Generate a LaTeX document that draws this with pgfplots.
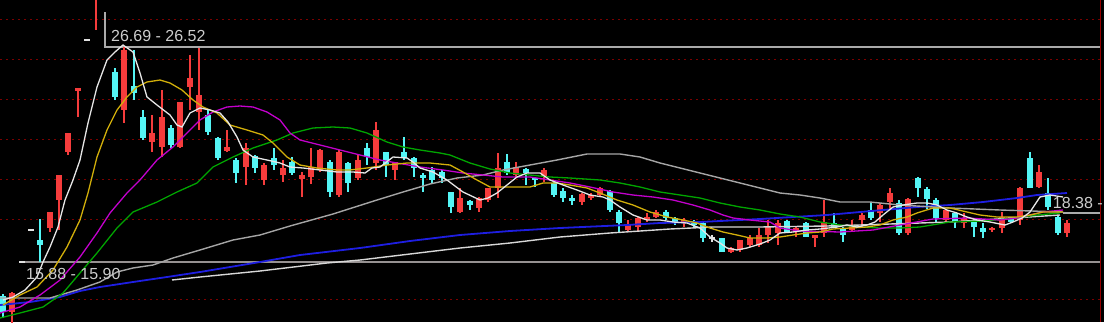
\documentclass[border=0pt]{standalone}
\usepackage{pgfplots}
\pgfplotsset{compat=1.18}
\usepackage{pgfplotstable}
\usepackage{fontspec}
\setmainfont{Liberation Sans}
\definecolor{cup}{RGB}{245,60,60}
\definecolor{cdn}{RGB}{84,245,245}
\definecolor{cdoji}{RGB}{225,225,225}
\definecolor{ma5}{RGB}{230,230,230}
\definecolor{ma10}{RGB}{210,175,10}
\definecolor{ma20}{RGB}{195,0,205}
\definecolor{ma30}{RGB}{0,165,0}
\definecolor{ma60}{RGB}{165,165,165}
\definecolor{ma120}{RGB}{215,215,215}
\definecolor{ma250}{RGB}{30,30,225}
\definecolor{gridred}{RGB}{125,0,0}
\definecolor{edgered}{RGB}{150,0,0}
\definecolor{refgray}{RGB}{170,170,170}
\definecolor{refgray2}{RGB}{150,145,145}
\definecolor{txt}{RGB}{205,205,205}

% candles: x position, wick top (high), body top, body bottom, wick bottom (low); values in chart y units (down)
\pgfplotstableread{
x top btop bbot bot
12 292 293 312 325
50 212 212 228 232
59 175 175 200 230
68 133 133 152 155
78 88 88 91 117
96 -60 -60 -5 30
124 47 50 110 123
152 115 133 142 152
162 90 117 147 157
180 102 102 147 148
190 55 78 87 110
199 48 95 112 130
227 130 147 151 152
246 143 148 167 185
264 163 165 180 185
283 160 168 175 182
302 172 175 179 197
311 148 167 177 184
320 149 150 170 172
339 150 152 195 197
358 155 160 178 180
376 122 130 163 170
395 162 162 170 180
460 188 198 212 213
479 197 198 208 212
488 188 188 200 202
498 153 168 188 198
516 162 167 175 178
544 168 170 177 182
582 193 194 202 205
591 193 195 198 200
600 187 188 195 197
628 220 225 230 232
638 217 218 227 232
647 213 217 220 222
656 210 212 217 218
684 218 220 223 227
731 247 248 252 253
740 240 240 250 252
750 235 238 245 247
759 228 235 245 247
768 220 227 235 243
778 220 223 233 245
796 227 228 232 237
815 235 235 238 247
824 200 222 233 237
852 220 225 230 232
862 213 215 220 227
880 203 205 213 222
890 188 193 202 210
908 198 199 233 235
946 210 210 220 222
964 213 218 223 228
992 227 228 230 232
1002 212 217 228 233
1020 187 188 220 225
1039 165 172 187 188
1067 220 223 233 237
}\upcandles

\pgfplotstableread{
x top btop bbot bot
3 294 296 312 318
40 219 240 245 262
115 68 72 97 100
134 50 86 93 100
143 110 117 138 140
171 125 128 145 148
208 110 115 132 135
218 137 138 158 160
236 158 160 173 183
255 155 156 168 173
274 148 158 165 170
292 157 162 173 175
330 160 162 192 197
348 162 163 183 192
367 143 148 157 165
386 152 152 165 177
404 137 152 158 160
414 157 158 168 177
423 173 175 178 192
432 167 170 180 183
442 170 172 178 183
451 192 192 207 213
470 200 201 205 210
507 154 162 173 175
526 168 169 173 185
535 177 178 180 187
554 182 183 195 197
563 188 191 198 202
572 195 198 201 205
610 190 191 210 212
619 210 212 223 232
666 210 212 218 220
675 217 218 222 225
694 220 221 225 228
703 222 223 238 242
722 238 238 252 252
787 220 221 232 233
806 222 223 237 237
834 213 223 228 228
843 227 228 235 242
871 202 210 218 220
899 200 203 233 235
918 177 178 188 197
927 187 189 199 209
936 198 200 218 222
955 212 213 222 228
974 218 220 227 237
983 223 228 232 238
1011 217 217 222 223
1030 152 158 188 188
1048 178 193 207 210
1058 215 217 233 235
}\downcandles

\pgfplotstableread{
x top btop bbot bot
22 261 261 263 263
31 229 229 231 231
87 39 39 41 41
712 235 237 239 242
}\dojicandles

\begin{document}
\begin{tikzpicture}
\begin{axis}[
  width=1104pt, height=322pt, scale only axis,
  xmin=0, xmax=1104, ymin=0, ymax=322, y dir=reverse,
  axis background/.style={fill=black},
  axis line style={draw=none},
  xtick=\empty, ytick=\empty,
  major tick length=0pt,
  clip=true,
  candle/.style={draw=none, mark=none, forget plot, error bars/.cd, y dir=both, y explicit, error mark=none},
  gridline/.style={gridred, line width=1pt, dash pattern=on 2pt off 4pt, forget plot},
]
% dotted grid
\addplot[gridline] coordinates {(0,19) (1100,19)};
\addplot[gridline] coordinates {(0,59) (1100,59)};
\addplot[gridline] coordinates {(0,99) (1100,99)};
\addplot[gridline] coordinates {(0,139) (1100,139)};
\addplot[gridline] coordinates {(0,179) (1100,179)};
\addplot[gridline] coordinates {(0,219) (1100,219)};
\addplot[gridline] coordinates {(0,299) (1100,299)};
% reference lines
\addplot[refgray, line width=2pt, forget plot] coordinates {(105,12) (105,46.5) (1100,46.5)};
\addplot[refgray2, line width=2pt, forget plot] coordinates {(24,262) (1100,262)};
\addplot[refgray, line width=1.6pt, forget plot] coordinates {(1063,213) (1100,213)};
\addplot[edgered, line width=1.4pt, forget plot] coordinates {(1100.5,0) (1100.5,322)};

% wicks
\addplot[candle, error bar style={draw=cup, line width=1.6pt}]
  table[x=x, y expr={(\thisrow{top}+\thisrow{bot})/2}, y error expr={(\thisrow{bot}-\thisrow{top})/2}] {\upcandles};
\addplot[candle, error bar style={draw=cdn, line width=1.6pt}]
  table[x=x, y expr={(\thisrow{top}+\thisrow{bot})/2}, y error expr={(\thisrow{bot}-\thisrow{top})/2}] {\downcandles};
\addplot[candle, error bar style={draw=cdoji, line width=1.6pt}]
  table[x=x, y expr={(\thisrow{top}+\thisrow{bot})/2}, y error expr={(\thisrow{bot}-\thisrow{top})/2}] {\dojicandles};
% bodies
\addplot[candle, error bar style={draw=cup, line width=6pt}]
  table[x=x, y expr={(\thisrow{btop}+\thisrow{bbot})/2}, y error expr={(\thisrow{bbot}-\thisrow{btop})/2}] {\upcandles};
\addplot[candle, error bar style={draw=cdn, line width=6pt}]
  table[x=x, y expr={(\thisrow{btop}+\thisrow{bbot})/2}, y error expr={(\thisrow{bbot}-\thisrow{btop})/2}] {\downcandles};
\addplot[candle, error bar style={draw=cdoji, line width=6pt}]
  table[x=x, y expr={(\thisrow{btop}+\thisrow{bbot})/2}, y error expr={(\thisrow{bbot}-\thisrow{btop})/2}] {\dojicandles};

% moving averages
\addplot[ma250, line width=1.8pt] coordinates {
(0,305)(30,302)(60,297)(80,291)(100,287)(133,282)(167,277)(200,272)(230,267)(260,262)(300,255)(360,248)(410,241)(460,235)(510,231)(560,228)(627,225)(660,223)(700,222)(760,219)(793,217)(827,215)(860,212)(883,210)(917,207)(950,205)(983,202)(1017,198)(1037,195)(1067,193)};
\addplot[ma120, line width=1.4pt] coordinates {
(172,280)(200,277)(260,271)(327,263)(360,260)(410,254)(460,248)(510,243)(560,237)(610,233)(640,231)(670,229)(713,227)(760,227)(827,226)(860,225)(950,222)(1060,215)};
\addplot[ma60, line width=1.4pt] coordinates {
(0,298)(50,298)(77,290)(100,282)(117,272)(133,268)(153,265)(173,258)(200,250)(233,240)(260,235)(290,226)(333,214)(377,200)(403,192)(430,184)(457,178)(483,175)(503,170)(530,165)(557,160)(587,154)(620,154)(640,157)(660,163)(680,168)(700,173)(720,178)(740,183)(760,188)(780,193)(800,195)(820,198)(840,202)(870,202)(900,205)(950,208)(1000,210)(1063,212)};
\addplot[ma30, line width=1.3pt] coordinates {
(0,318)(20,313)(43,307)(63,293)(80,273)(97,253)(117,228)(133,212)(157,202)(177,192)(197,183)(213,167)(233,157)(253,148)(277,140)(293,133)(313,128)(333,127)(350,128)(367,133)(387,142)(403,147)(420,150)(440,153)(450,155)(470,163)(490,169)(510,173)(530,175)(550,177)(570,178)(600,180)(620,183)(640,187)(660,192)(680,195)(700,198)(720,203)(740,207)(760,210)(780,214)(800,217)(820,222)(840,225)(860,227)(880,228)(900,228)(920,227)(950,222)(983,221)(1017,218)(1037,215)(1060,213)};
\addplot[ma20, line width=1.3pt] coordinates {
(0,313)(20,307)(40,295)(60,280)(80,257)(97,233)(110,213)(127,193)(140,180)(157,160)(173,147)(187,133)(200,120)(213,112)(227,107)(240,106)(253,107)(267,112)(280,120)(290,133)(300,140)(320,145)(340,150)(360,155)(380,160)(397,163)(420,167)(443,170)(463,173)(483,175)(503,177)(530,177)(550,180)(570,183)(590,187)(613,192)(633,195)(653,197)(673,200)(693,205)(710,210)(723,215)(733,218)(750,220)(770,222)(780,228)(800,231)(840,232)(873,230)(900,225)(933,219)(967,218)(1000,220)(1017,218)(1030,215)(1043,212)(1063,210)};
\addplot[ma10, line width=1.3pt] coordinates {
(3,305)(20,295)(37,287)(53,270)(67,247)(80,220)(88,193)(97,157)(107,130)(117,110)(127,97)(137,87)(147,82)(160,80)(170,83)(182,90)(193,100)(203,107)(217,113)(230,125)(247,130)(263,135)(273,143)(287,157)(300,165)(317,168)(337,170)(350,170)(367,168)(387,165)(407,163)(430,163)(450,165)(463,172)(477,180)(490,187)(507,187)(530,187)(543,183)(557,183)(570,185)(587,188)(600,193)(617,200)(633,205)(650,212)(667,217)(683,220)(697,223)(710,228)(723,232)(737,235)(750,238)(767,238)(780,237)(793,235)(807,233)(820,232)(833,229)(850,228)(867,227)(880,225)(893,220)(907,217)(917,213)(933,208)(950,208)(967,212)(980,215)(997,217)(1017,217)(1030,215)(1043,212)(1063,212)};
\addplot[ma5, line width=1.3pt] coordinates {
(3,300)(13,297)(25,290)(37,277)(43,262)(50,247)(58,227)(65,200)(73,180)(80,160)(88,123)(97,87)(107,60)(115,52)(123,45)(133,52)(140,73)(147,97)(157,105)(170,115)(177,125)(182,127)(190,113)(200,108)(210,110)(220,113)(228,122)(237,137)(243,150)(253,157)(267,160)(280,163)(290,167)(303,168)(320,170)(337,172)(353,172)(365,173)(372,168)(380,167)(393,157)(407,158)(413,162)(420,168)(433,172)(447,180)(463,192)(480,200)(488,198)(497,193)(507,185)(517,177)(527,173)(540,173)(550,180)(563,185)(577,190)(590,195)(603,197)(610,200)(620,207)(633,215)(647,220)(660,220)(673,222)(687,223)(700,228)(710,237)(720,243)(727,248)(737,250)(747,248)(760,244)(770,240)(780,233)(793,232)(807,230)(820,229)(837,227)(847,225)(857,227)(867,225)(875,222)(883,215)(893,207)(903,205)(917,203)(927,203)(937,205)(947,210)(957,213)(967,217)(977,220)(990,222)(1005,225)(1013,222)(1022,218)(1030,212)(1040,197)(1050,195)(1063,197)};

% labels
\node[anchor=west, text=txt, font=\fontsize{16}{18}\selectfont, inner sep=0pt] at (axis cs:111,36) {26.69 - 26.52};
\node[anchor=west, text=txt, font=\fontsize{16}{18}\selectfont, inner sep=0pt] at (axis cs:26,274) {15.88 - 15.90};
\node[anchor=east, text=txt, font=\fontsize{16}{18}\selectfont, inner sep=0pt] at (axis cs:1103,203) {18.38 -};
\end{axis}
\end{tikzpicture}
\end{document}
